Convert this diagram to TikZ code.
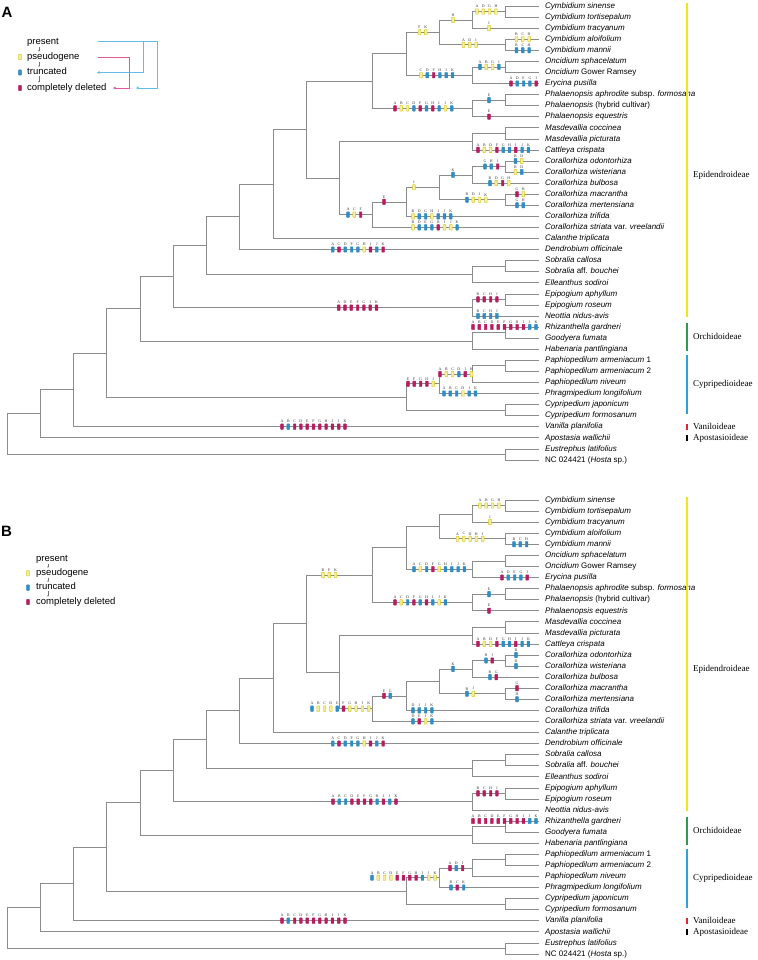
\documentclass[tikz,border=0pt]{standalone}
\usepackage{fontspec}
\setmainfont{Liberation Serif}
\setsansfont{Liberation Sans}
\usetikzlibrary{arrows.meta}
\definecolor{fp}{HTML}{F4EFA0}
\definecolor{dp}{HTML}{D6C616}
\definecolor{ft}{HTML}{2E8FC7}
\definecolor{dt}{HTML}{2A86BC}
\definecolor{fd}{HTML}{BC1B5F}
\definecolor{dd}{HTML}{B0175A}
\definecolor{linkb}{HTML}{62BDE8}
\definecolor{linkm}{HTML}{E2579F}
\definecolor{epiY}{HTML}{F2E51C}
\definecolor{orcG}{HTML}{2E9A4C}
\definecolor{cypB}{HTML}{2DA2DA}
\definecolor{vanR}{HTML}{E0252B}

% gene markers along one branch: first x, branch end, letter/state (p, t, d)
\newcommand{\genes}[3]{%
  \foreach \gl/\gs [count=\gk from 0] in {#3}{%
    \pgfmathsetmacro{\gx}{#1+6.3*\gk}%
    \node[gene=\gs, label={[glab]above:\gl}] (#2-\gl) at (\gx,0 |- #2) {};}}

% the tree itself, the same in both panels
\newcommand{\orchidtree}{%
  \foreach \tx [count=\i from 0] in {
    {Cymbidium sinense}, {Cymbidium tortisepalum}, {Cymbidium tracyanum},
    {Cymbidium aloifolium}, {Cymbidium mannii}, {Oncidium sphacelatum},
    {Oncidium \textup{Gower Ramsey}}, {Erycina pusilla},
    {Phalaenopsis aphrodite \textup{subsp.} formosana},
    {Phalaenopsis \textup{(hybrid cultivar)}}, {Phalaenopsis equestris},
    {Masdevallia coccinea}, {Masdevallia picturata}, {Cattleya crispata},
    {Corallorhiza odontorhiza}, {Corallorhiza wisteriana}, {Corallorhiza bulbosa},
    {Corallorhiza macrantha}, {Corallorhiza mertensiana}, {Corallorhiza trifida},
    {Corallorhiza striata \textup{var.} vreelandii}, {Calanthe triplicata},
    {Dendrobium officinale}, {Sobralia callosa}, {Sobralia \textup{aff.} bouchei},
    {Elleanthus sodiroi}, {Epipogium aphyllum}, {Epipogium roseum},
    {Neottia nidus-avis}, {Rhizanthella gardneri}, {Goodyera fumata},
    {Habenaria pantlingiana}, {Paphiopedilum armeniacum \textup{1}},
    {Paphiopedilum armeniacum \textup{2}}, {Paphiopedilum niveum},
    {Phragmipedium longifolium}, {Cypripedium japonicum}, {Cypripedium formosanum},
    {Vanilla planifolia}, {Apostasia wallichii}, {Eustrephus latifolius},
    {\textup{NC 024421 (}Hosta \textup{sp.)}}}{%
    \coordinate (t\i) at (539,6+11.07*\i);
    \node[taxon] (n\i) at (545,6+11.07*\i) {\tx};}
  % internal nodes: name/height/y
  \foreach \n/\h/\y in {cymA/1/11.54, cymB/2/19.84, cymC/1/44.75, cym/3/32.29,
    oncA/1/66.89, onc/2/75.19, cymonc/4/53.74, phalA/1/100.1, phal/2/108.4,
    vand/5/81.07, masd/1/133.31, masdcat/2/141.61, corA/1/166.52, corB/2/174.82,
    corC/1/199.73, corD/3/187.27, corE/4/201.8, cor/5/214.6, masdcor/6/178.1,
    epiA/7/129.59, epiB/8/184.03, epiC/9/216.79, sobA/1/266.15, sob/2/274.45,
    epiD/10/245.62, epipA/1/299.36, epip/2/307.66, epid/11/276.64,
    rhizA/1/332.57, orch/2/340.87, eo/12/308.76, paphA/1/365.78, paphB/2/374.08,
    paph/3/383.77, cypA/1/410.06, cyp/4/396.91, eoc/13/352.84, eocv/14/389.75,
    orchid/15/413.74, outg/1/454.34, root/16/434.04}
    \coordinate (\n) at (539-33.25*\h,\y);
  \foreach \p/\q in {cymA/t0, cymA/t1, cymB/cymA, cymB/t2, cymC/t3, cymC/t4,
    cym/cymB, cym/cymC, oncA/t5, oncA/t6, onc/oncA, onc/t7, cymonc/cym, cymonc/onc,
    phalA/t8, phalA/t9, phal/phalA, phal/t10, vand/cymonc, vand/phal,
    masd/t11, masd/t12, masdcat/masd, masdcat/t13, corA/t14, corA/t15,
    corB/corA, corB/t16, corC/t17, corC/t18, corD/corB, corD/corC,
    corE/corD, corE/t19, cor/corE, cor/t20, masdcor/masdcat, masdcor/cor,
    epiA/vand, epiA/masdcor, epiB/epiA, epiB/t21, epiC/epiB, epiC/t22,
    sobA/t23, sobA/t24, sob/sobA, sob/t25, epiD/epiC, epiD/sob,
    epipA/t26, epipA/t27, epip/epipA, epip/t28, epid/epiD, epid/epip,
    rhizA/t29, rhizA/t30, orch/rhizA, orch/t31, eo/epid, eo/orch,
    paphA/t32, paphA/t33, paphB/paphA, paphB/t34, paph/paphB, paph/t35,
    cypA/t36, cypA/t37, cyp/paph, cyp/cypA, eoc/eo, eoc/cyp, eocv/eoc, eocv/t38,
    orchid/eocv, orchid/t39, outg/t40, outg/t41, root/orchid, root/outg}
    \draw[branch] (\p) |- (\q);
  % subfamilies
  \draw[cbar, epiY] (687,3) -- (687,317);
  \draw[cbar, orcG] (687,323) -- (687,351);
  \draw[cbar, cypB] (687,355) -- (687,414);
  \draw[cbar, vanR] (687,424) -- (687,430);
  \draw[cbar, black] (687,435) -- (687,441);
  \node[clade] (epiL) at (693,175) {Epidendroideae};
  \node[clade] (orcL) at (693,337) {Orchidoideae};
  \node[clade] (cypL) at (693,384) {Cypripedioideae};
  \node[clade] (vanL) at (693,427) {Vaniloideae};
  \node[clade] (apoL) at (693,438) {Apostasioideae};
}

\begin{document}
\begin{tikzpicture}[x=1pt, y=-1pt,
  branch/.style={draw=black!45, line width=0.6pt},
  taxon/.style={anchor=mid west, inner sep=0pt, font=\sffamily\itshape\fontsize{8}{9}\selectfont},
  clade/.style={anchor=mid west, inner sep=0pt, font=\fontsize{9}{10}\selectfont},
  cbar/.style={line width=1.6pt},
  gene/.style={rectangle, inner sep=0pt, minimum width=2.7pt, minimum height=5.4pt,
               rounded corners=0.4pt, line width=0.45pt, draw=d#1, fill=f#1},
  glab/.style={inner sep=0.6pt, font=\fontsize{3.9}{3.9}\selectfont, text=black!80},
  leg/.style={anchor=mid west, inner sep=0pt, font=\sffamily\fontsize{9.5}{10}\selectfont},
  panel/.style={inner sep=0pt, font=\sffamily\bfseries\fontsize{15}{15}\selectfont},
  dwn/.style={draw=black!55, line width=0.3pt, shorten <=0.6pt, shorten >=0.6pt,
              -{Stealth[length=1.6pt, width=1.6pt]}},
  lnkb/.style={draw=linkb, line width=0.6pt, -{Triangle[length=2.6pt, width=2.6pt]}},
  lnkm/.style={draw=linkm, line width=0.6pt, -{Triangle[length=2.6pt, width=2.6pt]}}]
\useasboundingbox (0,0) rectangle (757,960);

% Panel A: legend with transitions
\node[panel] (labA) at (7,12) {A};
\node[leg] (presA) at (27,42) {present};
\node[leg] (pseuA) at (27,57) {pseudogene};
\node[leg] (trunA) at (27,72.5) {truncated};
\node[leg] (deleA) at (27,88) {completely deleted};
\node[gene=p] (keypA) at (20,57) {};
\node[gene=t] (keytA) at (20,72.5) {};
\node[gene=d] (keydA) at (20,88) {};
\foreach \u/\v in {presA/pseuA, pseuA/trunA, trunA/deleA}
  \draw[dwn] ([xshift=12pt]\u.south west) -- ([xshift=12pt]\v.north west);
\coordinate (presout) at (98,41.5);
\coordinate (pseuout) at (98,57);
\coordinate (trunin) at (97,72.5);
\coordinate (delinb) at (136,88);
\coordinate (delinm) at (113,88);
\draw[lnkb] (presout) -- ++(59,0) |- (delinb);
\draw[lnkb] (presout) ++(45,0) |- (trunin);
\draw[lnkm] (pseuout) -- ++(31,0) |- (delinm);

\begin{scope}[name prefix=a-]
\orchidtree
\genes{477}{cymA}{A/p,D/p,G/p,H/p}
\genes{489}{t2}{I/p}
\genes{453}{cymB}{H/p}
\genes{463.5}{cymC}{A/p,D/p,I/p}
\genes{516.5}{t3}{B/p,C/p,H/p}
\genes{516.5}{t4}{B/t,C/t,H/t}
\genes{419.5}{cym}{F/p,K/p}
\genes{480}{oncA}{A/t,B/p,G/p,I/t}
\genes{511}{t7}{A/d,D/t,E/t,G/t,I/d}
\genes{421}{onc}{C/p,D/t,F/d,H/t,J/t,K/t}
\genes{489}{phalA}{E/t}
\genes{489}{t10}{E/d}
\genes{395}{phal}{A/d,B/p,C/p,D/t,F/d,G/t,H/d,I/t,J/p,K/t}
\genes{478}{t13}{A/d,B/p,D/p,F/d,G/t,H/t,I/d,J/t,K/t}
\genes{348}{cor}{A/t,C/p,F/d}
\genes{384}{corE}{E/d}
\genes{414}{corD}{I/p}
\genes{413}{t19}{B/p,D/t,G/t,H/p,I/t,J/t,K/t}
\genes{413}{t20}{B/p,D/t,E/t,G/t,H/d,I/p,J/p,K/t}
\genes{453}{corB}{K/t}
\genes{485}{corA}{G/t,H/t,J/d}
\genes{515.5}{t14}{B/t,D/p}
\genes{515.5}{t15}{B/p,D/t}
\genes{490}{t16}{B/t,D/p,G/d,H/p}
\genes{467}{corC}{B/t,D/p,J/p,K/p}
\genes{517}{t17}{G/d,H/p}
\genes{517}{t18}{G/t,H/t}
\genes{332.7}{t22}{A/t,C/d,D/t,F/t,G/t,H/p,I/d,J/t,K/d}
\genes{338.7}{epip}{A/d,D/d,E/d,F/d,G/d,I/d,K/d}
\genes{478}{epipA}{B/d,C/d,H/d,J/d}
\genes{478}{t28}{B/t,C/t,H/t,J/t}
\genes{473}{t29}{A/d,B/d,C/d,D/d,E/d,F/d,G/d,H/d,I/d,J/t,K/t}
\genes{408}{paph}{E/d,F/d,G/d,H/d,J/p}
\genes{440}{paphB}{A/d,B/p,C/p,D/t,I/d,K/p}
\genes{444}{t35}{A/t,B/t,C/t,D/p,I/t,K/t}
\genes{282}{t38}{A/d,B/t,C/d,D/d,E/d,F/d,G/d,H/d,I/d,J/d,K/d}
\end{scope}

% Panel B: legend without transitions
\node[panel] (labB) at (6.5,531.5) {B};
\node[leg] (presB) at (36,559) {present};
\node[leg] (pseuB) at (36,573.3) {pseudogene};
\node[leg] (trunB) at (36,587.6) {truncated};
\node[leg] (deleB) at (36,602) {completely deleted};
\node[gene=p] (keypB) at (28,573.3) {};
\node[gene=t] (keytB) at (28,587.6) {};
\node[gene=d] (keydB) at (28,602) {};
\foreach \u/\v in {presB/pseuB, pseuB/trunB, trunB/deleB}
  \draw[dwn] ([xshift=12pt]\u.south west) -- ([xshift=12pt]\v.north west);

\begin{scope}[name prefix=b-, shift={(0,494)}]
\orchidtree
\genes{480}{cymA}{A/p,B/p,G/p,H/p}
\genes{490}{t2}{I/p}
\genes{457.5}{cymC}{A/p,C/p,D/p,H/p,I/p}
\genes{514}{t4}{B/t,C/t,H/t}
\genes{414}{onc}{A/t,C/p,D/t,F/d,G/p,H/t,I/t,J/t,K/t}
\genes{502}{t7}{A/d,D/t,E/t,G/t,I/d}
\genes{323}{vand}{B/p,F/p,K/p}
\genes{395}{phal}{A/d,C/p,D/t,F/d,G/t,H/d,I/t,J/p,K/t}
\genes{489}{phalA}{E/t}
\genes{489}{t10}{E/d}
\genes{478}{t13}{A/d,B/p,D/p,F/d,G/t,H/t,I/d,J/t,K/t}
\genes{312}{cor}{A/t,B/p,C/p,D/p,E/t,F/d,G/p,H/p,I/p,K/p}
\genes{384}{corE}{E/d,G/t}
\genes{413}{t19}{D/t,I/t,J/t,K/t}
\genes{413}{t20}{D/t,E/d,J/p,K/t}
\genes{453}{corB}{K/t}
\genes{486}{corA}{H/t,J/d}
\genes{516}{t14}{B/t}
\genes{516}{t15}{D/t}
\genes{490}{t16}{B/t,G/d}
\genes{467}{corC}{B/t,J/p}
\genes{517}{t17}{G/d}
\genes{517}{t18}{H/t}
\genes{332.7}{t22}{A/t,C/d,D/t,F/t,G/t,H/p,I/d,J/t,K/d}
\genes{333}{epip}{A/d,B/t,C/t,D/d,E/d,F/d,G/d,H/t,I/d,J/t,K/d}
\genes{478}{epipA}{B/d,C/d,H/d,J/d}
\genes{473}{t29}{A/d,B/d,C/d,D/d,E/d,F/d,G/d,H/d,I/d,J/t,K/t}
\genes{372}{paph}{A/t,B/p,C/p,D/p,E/d,F/d,G/d,H/d,I/t,J/p,K/p}
\genes{450}{paphB}{A/d,D/t,I/d}
\genes{451}{t35}{B/t,C/d,K/t}
\genes{282}{t38}{A/d,B/t,C/d,D/d,E/d,F/d,G/d,H/d,I/d,J/d,K/d}
\end{scope}
\end{tikzpicture}
\end{document}
